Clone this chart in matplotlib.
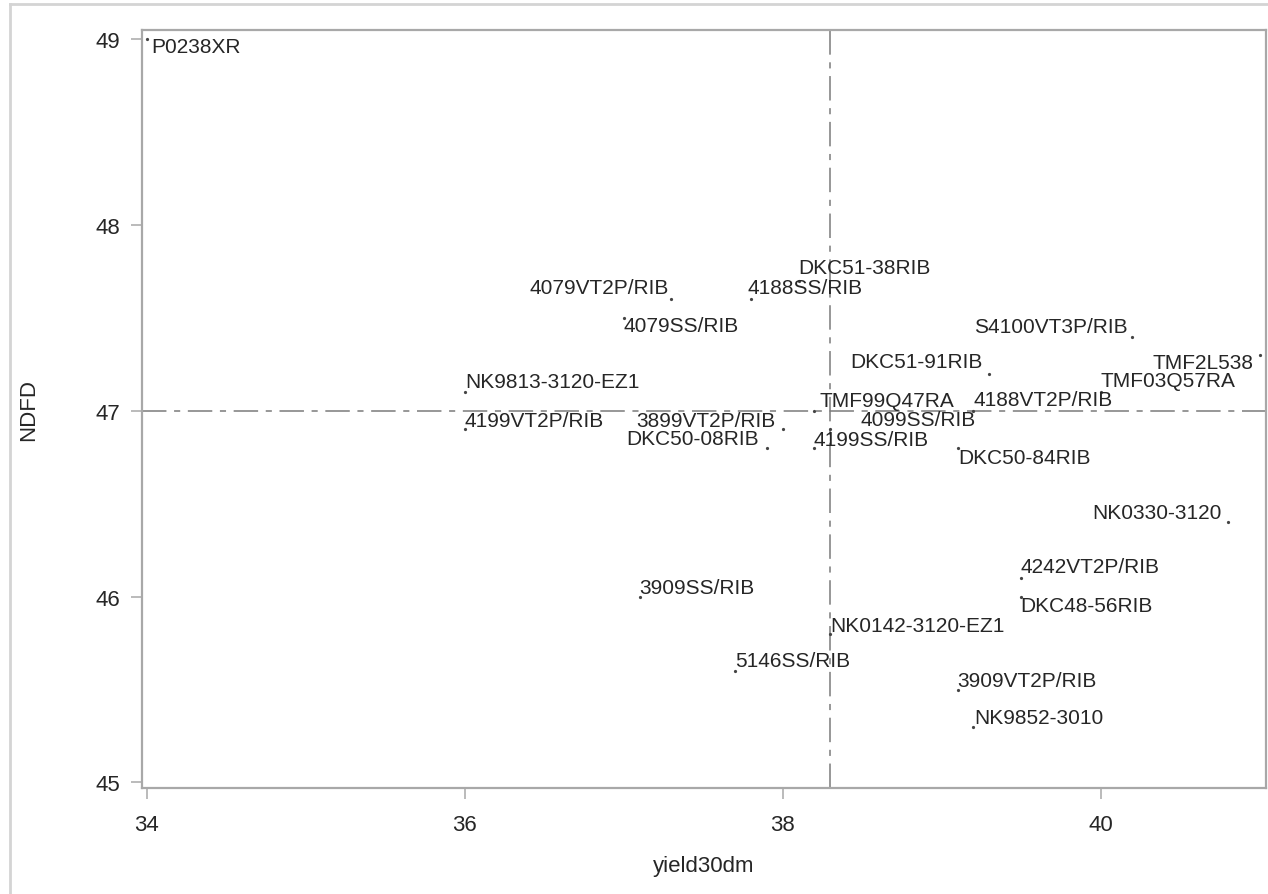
import matplotlib

matplotlib.use("Agg")
import matplotlib.pyplot as plt
from matplotlib.lines import Line2D

# hybrid names, yield (x) and NDFD (y)
hybrids = [
    "P0238XR", "4079VT2P/RIB", "4188SS/RIB", "DKC51-38RIB", "4079SS/RIB",
    "S4100VT3P/RIB", "DKC51-91RIB", "TMF2L538", "TMF03Q57RA",
    "NK9813-3120-EZ1", "4199VT2P/RIB", "3899VT2P/RIB", "DKC50-08RIB",
    "4199SS/RIB", "TMF99Q47RA", "4099SS/RIB", "4188VT2P/RIB", "DKC50-84RIB",
    "NK0330-3120", "4242VT2P/RIB", "DKC48-56RIB", "3909SS/RIB",
    "NK0142-3120-EZ1", "5146SS/RIB", "3909VT2P/RIB", "NK9852-3010",
]
yield30dm = [
    34.0, 37.3, 37.8, 38.1, 37.0,
    40.2, 39.3, 41.0, 40.0,
    36.0, 36.0, 38.0, 37.9,
    38.2, 38.2, 38.3, 39.2, 39.1,
    40.8, 39.5, 39.5, 37.1,
    38.3, 37.7, 39.1, 39.2,
]
ndfd = [
    49.0, 47.6, 47.6, 47.7, 47.5,
    47.4, 47.2, 47.3, 47.1,
    47.1, 46.9, 46.9, 46.8,
    46.8, 47.0, 46.9, 47.0, 46.8,
    46.4, 46.1, 46.0, 46.0,
    45.8, 45.6, 45.5, 45.3,
]
ref_x = 38.3
ref_y = 47.0
x_ticks = [34, 36, 38, 40]
y_ticks = [45, 46, 47, 48, 49]

# label placement: pixel offset from the point (dx right, dy down) and alignment
label_layout = [
    (4, 7, "left"), (-3, -12, "right"), (-3, -12, "left"), (0, -13, "left"),
    (0, 8, "left"), (-5, -10, "right"), (-7, -12, "right"), (-6, 7, "right"),
    (0, -12, "left"), (1, -11, "left"), (0, -9, "left"), (-7, -9, "right"),
    (-8, -10, "right"), (-1, -9, "left"), (5, -10, "left"), (30, -10, "left"),
    (0, -11, "left"), (1, 9, "left"), (-6, -10, "right"), (-1, -12, "left"),
    (-1, 9, "left"), (0, -9, "left"), (0, -8, "left"), (0, -10, "left"),
    (0, -9, "left"), (1, -9, "left"),
]

DPI = 100
PX = 72 / DPI
TEXT = "#262626"
FRAME = "#a8a8a8"

plt.rcParams["font.family"] = ["Liberation Sans", "DejaVu Sans"]

fig = plt.figure(figsize=(12.68, 8.95), dpi=DPI)
ax = fig.add_axes([142 / 1268, 1 - 789 / 895, 1124 / 1268, (789 - 31) / 895])

ax.plot(yield30dm, ndfd, linestyle="none", marker="o", markersize=1.3,
        color="#444444")

for name, x, y, (dx, dy, ha) in zip(hybrids, yield30dm, ndfd, label_layout):
    ax.annotate(name, (x, y), xytext=(dx * PX, -dy * PX),
                textcoords="offset points", ha=ha, va="center",
                fontsize=15, color=TEXT)

dashdot = (0, (16, 5, 4, 5))
ax.axvline(ref_x, color="#7a7a7a", linewidth=1.1, linestyle=dashdot, zorder=0)
ax.axhline(ref_y, color="#7a7a7a", linewidth=1.1, linestyle=dashdot, zorder=0)

ax.set_xlim(33.97, 41.04)
ax.set_ylim(44.97, 49.05)
ax.set_xticks(x_ticks)
ax.set_yticks(y_ticks)
ax.tick_params(direction="out", length=8, width=1.1, color=FRAME,
               labelsize=16, labelcolor=TEXT, pad=8)
ax.tick_params(axis="x", pad=11)
for spine in ax.spines.values():
    spine.set_color(FRAME)
    spine.set_linewidth(1.6)

ax.set_xlabel("yield30dm", fontsize=16, color=TEXT, labelpad=14)
ax.set_ylabel("NDFD", fontsize=16, color=TEXT, labelpad=40)

# light outer border of the graph area (top and left visible)
fig.add_artist(Line2D([10 / 1268, 10 / 1268], [0, 1 - 5 / 895],
                      transform=fig.transFigure, color="#d4d4d4", linewidth=2))
fig.add_artist(Line2D([10 / 1268, 1], [1 - 5 / 895, 1 - 5 / 895],
                      transform=fig.transFigure, color="#d4d4d4", linewidth=2))

fig.savefig("out.png", dpi=DPI)
